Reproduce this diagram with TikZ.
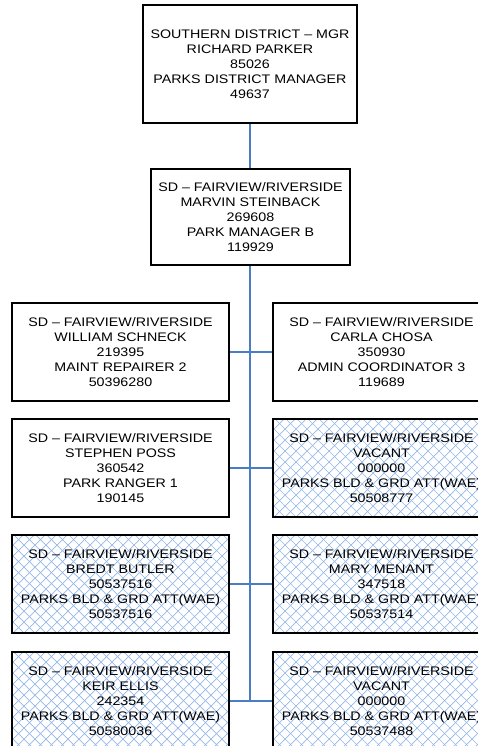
\documentclass[tikz,border=0pt]{standalone}
\usepackage{fontspec}
\setmainfont{Liberation Sans}[FakeStretch=1.15]
\definecolor{linkblue}{RGB}{74,126,196}
\definecolor{hatchblue}{RGB}{150,185,232}
\begin{document}
\begin{tikzpicture}[x=1pt,y=1pt,
  box/.style={draw=black, line width=1.4pt, fill=white, align=center, inner sep=0pt,
    font=\fontsize{12.4}{15}\selectfont},
  rowbox/.style={box, minimum width=217pt, minimum height=98pt},
  hatch/.style={path picture={
    \foreach \k in {-120,-109,...,340}{
      \draw[hatchblue, line width=0.7pt] ([xshift=\k pt]path picture bounding box.south west) -- ++(110,110);
      \draw[hatchblue, line width=0.7pt] ([xshift=\k pt]path picture bounding box.south west) -- ++(-110,110);
    }}},
  link/.style={draw=linkblue, line width=1.5pt}]
\useasboundingbox (0,0) rectangle (478,-746);
\clip (0,0) rectangle (478,-746);

\node[box, minimum width=214pt, minimum height=118pt] (top) at (250,-64)
  {SOUTHERN DISTRICT -- MGR\\RICHARD PARKER\\85026\\PARKS DISTRICT MANAGER\\49637};
\node[box, minimum width=199pt, minimum height=96pt] (mgr) at (250.5,-217)
  {SD -- FAIRVIEW/RIVERSIDE\\MARVIN STEINBACK\\269608\\PARK MANAGER B\\119929};

\node[rowbox] (l1) at (120.5,-352)
  {SD -- FAIRVIEW/RIVERSIDE\\WILLIAM SCHNECK\\219395\\MAINT REPAIRER 2\\50396280};
\node[rowbox] (r1) at (381.5,-352)
  {SD -- FAIRVIEW/RIVERSIDE\\CARLA CHOSA\\350930\\ADMIN COORDINATOR 3\\119689};

\node[rowbox] (l2) at (120.5,-468)
  {SD -- FAIRVIEW/RIVERSIDE\\STEPHEN POSS\\360542\\PARK RANGER 1\\190145};
\node[rowbox, hatch] (r2) at (381.5,-468)
  {SD -- FAIRVIEW/RIVERSIDE\\VACANT\\000000\\PARKS BLD \& GRD ATT(WAE)\\50508777};

\node[rowbox, hatch] (l3) at (120.5,-584)
  {SD -- FAIRVIEW/RIVERSIDE\\BREDT BUTLER\\50537516\\PARKS BLD \& GRD ATT(WAE)\\50537516};
\node[rowbox, hatch] (r3) at (381.5,-584)
  {SD -- FAIRVIEW/RIVERSIDE\\MARY MENANT\\347518\\PARKS BLD \& GRD ATT(WAE)\\50537514};

\node[rowbox, hatch] (l4) at (120.5,-701)
  {SD -- FAIRVIEW/RIVERSIDE\\KEIR ELLIS\\242354\\PARKS BLD \& GRD ATT(WAE)\\50580036};
\node[rowbox, hatch] (r4) at (381.5,-701)
  {SD -- FAIRVIEW/RIVERSIDE\\VACANT\\000000\\PARKS BLD \& GRD ATT(WAE)\\50537488};

\coordinate (vend) at (250,-701);
\draw[link] (top.south -| vend) -- (mgr.north -| vend);
\draw[link] (mgr.south -| vend) -- (vend);
\draw[link] (l1.east) -- (r1.west);
\draw[link] (l2.east) -- (r2.west);
\draw[link] (l3.east) -- (r3.west);
\draw[link] (l4.east) -- (r4.west);
\end{tikzpicture}
\end{document}
